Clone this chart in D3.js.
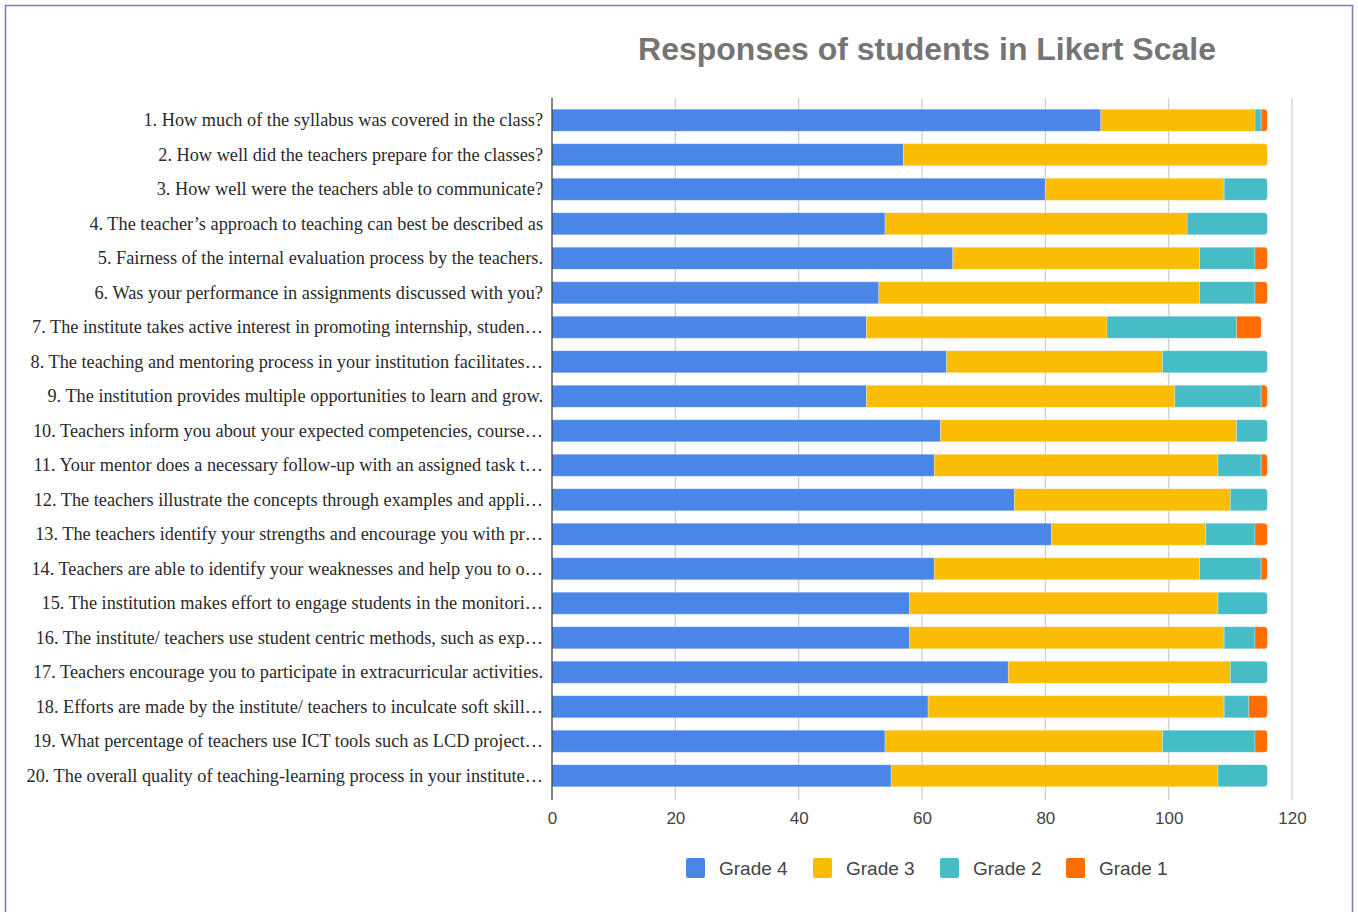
<!DOCTYPE html>
<html><head><meta charset="utf-8">
<script src="https://cdn.jsdelivr.net/npm/d3@7"></script>
<style>body{margin:0;background:#fff;} svg{display:block;}</style>
</head><body>
<svg id="chart" width="1358" height="912"></svg>
<script>
const questions = [
"1. How much of the syllabus was covered in the class?",
"2. How well did the teachers prepare for the classes?",
"3. How well were the teachers able to communicate?",
"4. The teacher’s approach to teaching can best be described as",
"5. Fairness of the internal evaluation process by the teachers.",
"6. Was your performance in assignments discussed with you?",
"7. The institute takes active interest in promoting internship, studen…",
"8. The teaching and mentoring process in your institution facilitates…",
"9. The institution provides multiple opportunities to learn and grow.",
"10. Teachers inform you about your expected competencies, course…",
"11. Your mentor does a necessary follow-up with an assigned task t…",
"12. The teachers illustrate the concepts through examples and appli…",
"13. The teachers identify your strengths and encourage you with pr…",
"14. Teachers are able to identify your weaknesses and help you to o…",
"15. The institution makes effort to engage students in the monitori…",
"16. The institute/ teachers use student centric methods, such as exp…",
"17. Teachers encourage you to participate in extracurricular activities.",
"18. Efforts are made by the institute/ teachers to inculcate soft skill…",
"19. What percentage of teachers use ICT tools such as LCD project…",
"20. The overall quality of teaching-learning process in your institute…"
];
const seriesNames = ["Grade 4","Grade 3","Grade 2","Grade 1"];
const grade4 = [89,57,80,54,65,53,51,64,51,63,62,75,81,62,58,58,74,61,54,55];
const grade3 = [25,59,29,49,40,52,39,35,50,48,46,35,25,43,50,51,36,48,45,53];
const grade2 = [1,0,7,13,9,9,21,17,14,5,7,6,8,10,8,5,6,4,15,8];
const grade1 = [1,0,0,0,2,2,4,0,1,0,1,0,2,1,0,2,0,3,2,0];
const xTicks = [0,20,40,60,80,100,120];
const colors = ["#4a86e8","#fbbc04","#46bdc6","#ff6d01"];

const svg = d3.select("#chart");
svg.append("rect").attr("x",5.5).attr("y",5.5).attr("width",1347).attr("height",920)
  .attr("fill","none").attr("stroke","#7b7bb5").attr("stroke-width",1.5);

const m = {left:552, right:1292, top:103, bottom:793};
const x = d3.scaleLinear().domain([0,120]).range([m.left,m.right]);
const y = d3.scaleBand().domain(questions).range([m.top,m.bottom]).paddingInner(0.36).paddingOuter(0.18);

// title
svg.append("text").attr("x",927).attr("y",60).attr("text-anchor","middle")
  .attr("font-family","Liberation Sans, Arial, sans-serif").attr("font-weight","bold")
  .attr("font-size",32).attr("fill","#757575").text("Responses of students in Likert Scale");

// gridlines
svg.append("g").selectAll("line").data(xTicks.slice(1)).join("line")
  .attr("x1",d=>x(d)).attr("x2",d=>x(d)).attr("y1",98).attr("y2",800)
  .attr("stroke","#d0d0d0").attr("stroke-width",1.3);

// stacked bars
const stackData = questions.map((q,i)=>({q, g4:grade4[i], g3:grade3[i], g2:grade2[i], g1:grade1[i]}));
const keys = ["g4","g3","g2","g1"];
const stack = d3.stack().keys(keys)(stackData);
const gBars = svg.append("g");
const lastIdx = stackData.map(d=>{ let k=0; keys.forEach((key,j)=>{ if(d[key]>0) k=j; }); return k; });
stack.forEach((layer,si)=>{
  layer.forEach((seg,i)=>{
    if(seg[1]-seg[0] <= 0) return;
    const x0 = x(seg[0]), x1 = x(seg[1]);
    const y0 = y(questions[i]), h = y.bandwidth();
    const r = (lastIdx[i]===si) ? Math.min(3,(x1-x0)) : 0;
    const p = d3.path();
    p.moveTo(x0,y0); p.lineTo(x1-r,y0);
    if(r>0){ p.arcTo(x1,y0,x1,y0+r,r); p.lineTo(x1,y0+h-r); p.arcTo(x1,y0+h,x1-r,y0+h,r); }
    else { p.lineTo(x1,y0+h); }
    p.lineTo(x0,y0+h); p.closePath();
    gBars.append("path").attr("d",p.toString()).attr("fill",colors[si])
      .attr("stroke","#ffffff").attr("stroke-opacity",0.45).attr("stroke-width",0.6);
  });
});

// baseline
svg.append("line").attr("x1",x(0)).attr("x2",x(0)).attr("y1",98).attr("y2",800)
  .attr("stroke","#333").attr("stroke-width",1.2);

// y labels
const yAxis = d3.axisLeft(y).tickSize(0).tickPadding(9);
const gy = svg.append("g").attr("transform",`translate(${m.left},0)`).call(yAxis);
gy.select(".domain").remove();
gy.selectAll("text").attr("font-family","Liberation Serif, Times New Roman, serif")
  .attr("font-size",18.3).attr("fill","#2a2a2a");

// x axis labels
const xAxis = d3.axisBottom(x).tickValues(xTicks).tickSize(0).tickPadding(0);
const gx = svg.append("g").attr("transform",`translate(0,812)`).call(xAxis);
gx.select(".domain").remove();
gx.selectAll("text").attr("font-family","Liberation Sans, Arial, sans-serif")
  .attr("font-size",17).attr("fill","#444").attr("dy","0.35em").attr("y",6);

// legend
const legX = [686,813,940,1066];
const lg = svg.append("g");
seriesNames.forEach((s,i)=>{
  lg.append("rect").attr("x",legX[i]).attr("y",858).attr("width",19).attr("height",20).attr("rx",2)
    .attr("fill",colors[i]);
  lg.append("text").attr("x",legX[i]+33).attr("y",868).attr("dy","0.35em")
    .attr("font-family","Liberation Sans, Arial, sans-serif").attr("font-size",19)
    .attr("fill","#444").text(s);
});
</script>
</body></html>
